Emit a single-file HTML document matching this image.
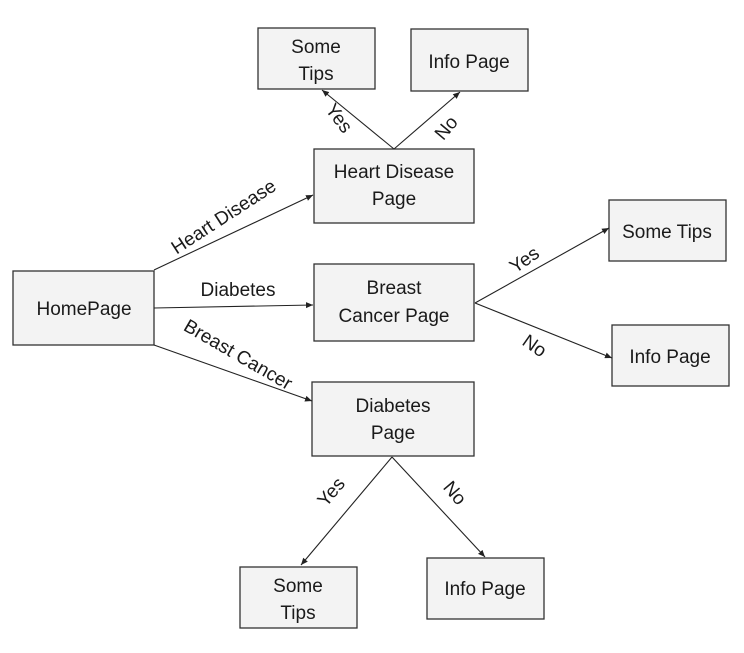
<!DOCTYPE html>
<html><head><style>
body{margin:0;background:#fff}
svg{display:block}
text{font-family:"Liberation Sans",Arial,sans-serif;font-size:19px;fill:#1a1a1a}
rect{fill:#f3f3f3;stroke:#333;stroke-width:1.3}
line{stroke:#222;stroke-width:1.1}
</style></head><body>
<svg width="744" height="653" viewBox="0 0 744 653">
<defs><marker id="a" markerWidth="8" markerHeight="8" refX="7" refY="4" orient="auto" markerUnits="userSpaceOnUse"><path d="M0,1 L7,4 L0,7z" fill="#222"/></marker></defs>
<rect x="258" y="28" width="117" height="61"/>
<rect x="411" y="29" width="117" height="62"/>
<rect x="314" y="149" width="160" height="74"/>
<rect x="609" y="200" width="117" height="61"/>
<rect x="13" y="271" width="141" height="74"/>
<rect x="314" y="264" width="160" height="77"/>
<rect x="612" y="325" width="117" height="61"/>
<rect x="312" y="382" width="162" height="74"/>
<rect x="240" y="567" width="117" height="61"/>
<rect x="427" y="558" width="117" height="61"/>
<g text-anchor="middle">
<text x="316" y="53">Some</text><text x="316" y="80">Tips</text>
<text x="469" y="68">Info Page</text>
<text x="394" y="178">Heart Disease</text><text x="394" y="205">Page</text>
<text x="667" y="238">Some Tips</text>
<text x="84" y="315">HomePage</text>
<text x="394" y="294">Breast</text><text x="394" y="322">Cancer Page</text>
<text x="670" y="363">Info Page</text>
<text x="393" y="412">Diabetes</text><text x="393" y="439">Page</text>
<text x="298" y="592">Some</text><text x="298" y="619">Tips</text>
<text x="485" y="595">Info Page</text>
</g>
<line x1="394" y1="149" x2="322" y2="90" marker-end="url(#a)"/>
<line x1="394" y1="149" x2="460" y2="92" marker-end="url(#a)"/>
<line x1="154" y1="270" x2="313" y2="195" marker-end="url(#a)"/>
<line x1="154" y1="308" x2="313" y2="305" marker-end="url(#a)"/>
<line x1="154" y1="345" x2="312" y2="401" marker-end="url(#a)"/>
<line x1="475" y1="303" x2="609" y2="228" marker-end="url(#a)"/>
<line x1="475" y1="303" x2="612" y2="358" marker-end="url(#a)"/>
<line x1="392" y1="457" x2="301" y2="565" marker-end="url(#a)"/>
<line x1="392" y1="457" x2="485" y2="557" marker-end="url(#a)"/>
<g text-anchor="middle">
<text transform="translate(227,222) rotate(-33)">Heart Disease</text>
<text x="238" y="296">Diabetes</text>
<text transform="translate(235,360) rotate(30)">Breast Cancer</text>
<text transform="translate(334,122) rotate(53)">Yes</text>
<text transform="translate(451,132) rotate(-50)">No</text>
<text transform="translate(528,265) rotate(-35)">Yes</text>
<text transform="translate(531,351) rotate(35)">No</text>
<text transform="translate(336,496) rotate(-50)">Yes</text>
<text transform="translate(450,497) rotate(50)">No</text>
</g>
</svg>
</body></html>
